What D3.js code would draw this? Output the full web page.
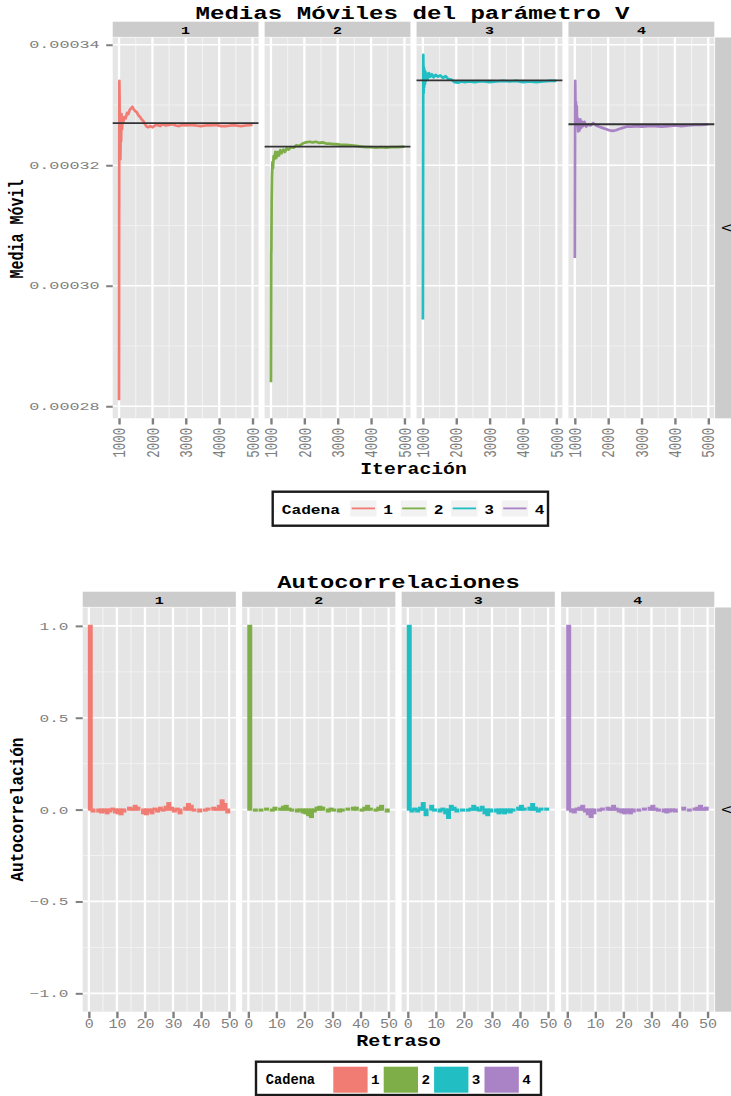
<!DOCTYPE html>
<html>
<head>
<meta charset="utf-8">
<script src="https://cdn.jsdelivr.net/npm/d3@7"></script>
<style>
  html, body { margin: 0; padding: 0; background: #fff; }
  svg { display: block; }
</style>
</head>
<body>
<svg id="chart" width="731" height="1096"></svg>
<script>
// ---------------- data ----------------
const chains = ["1", "2", "3", "4"];
const chainColors = ["#F17C74", "#7DAE48", "#21BEC3", "#A983C6"];

// running mean of parameter V per chain: [iteration, mean]
const runMean1 = [
  [1000, 0.000281], [1003, 0.000305], [1006, 0.000322], [1010, 0.000334], [1016, 0.000331],
  [1022, 0.000324], [1030, 0.000328], [1040, 0.000321], [1050, 0.000326], [1062, 0.000324],
  [1075, 0.0003285], [1090, 0.000326], [1110, 0.000328], [1130, 0.0003272], [1160, 0.000328],
  [1200, 0.0003278], [1240, 0.0003287], [1280, 0.0003285], [1320, 0.0003292], [1360, 0.0003294],
  [1400, 0.0003297], [1440, 0.0003293], [1480, 0.000329], [1530, 0.0003288], [1580, 0.0003283],
  [1630, 0.000328], [1680, 0.0003276], [1730, 0.0003273], [1780, 0.0003268], [1830, 0.0003264],
  [1880, 0.0003263], [1930, 0.0003265], [2000, 0.0003263], [2080, 0.0003266], [2150, 0.0003267],
  [2230, 0.0003265], [2300, 0.0003268], [2400, 0.0003266], [2500, 0.0003267], [2600, 0.0003268],
  [2700, 0.0003266], [2800, 0.0003265], [2900, 0.0003267], [3000, 0.0003266], [3150, 0.0003267],
  [3300, 0.0003266], [3450, 0.0003265], [3600, 0.0003266], [3750, 0.0003266], [3900, 0.0003267],
  [4050, 0.0003265], [4200, 0.0003265], [4350, 0.0003266], [4500, 0.0003266], [4650, 0.0003265],
  [4800, 0.0003266], [5000, 0.0003267]
];
const runMean2 = [
  [1000, 0.000284], [1004, 0.000295], [1008, 0.0003056], [1012, 0.0003058], [1020, 0.000314],
  [1030, 0.000318], [1045, 0.0003205], [1060, 0.0003195], [1080, 0.0003215], [1100, 0.000321],
  [1130, 0.0003222], [1160, 0.0003212], [1200, 0.0003222], [1240, 0.0003216], [1280, 0.0003225],
  [1320, 0.000322], [1370, 0.0003226], [1420, 0.0003222], [1470, 0.0003228], [1530, 0.0003226],
  [1600, 0.000323], [1680, 0.0003229], [1760, 0.0003233], [1850, 0.0003232], [1950, 0.0003236],
  [2050, 0.0003238], [2150, 0.0003239], [2250, 0.0003238], [2350, 0.0003239], [2450, 0.0003237],
  [2550, 0.0003238], [2650, 0.0003236], [2750, 0.0003236], [2850, 0.0003235], [2950, 0.0003235],
  [3100, 0.0003234], [3250, 0.0003234], [3400, 0.0003233], [3550, 0.0003232], [3700, 0.0003231],
  [3850, 0.000323], [4000, 0.000323], [4150, 0.0003229], [4300, 0.000323], [4450, 0.0003229],
  [4600, 0.000323], [4800, 0.000323], [5000, 0.0003231]
];
const runMean3 = [
  [1000, 0.0002944], [1004, 0.000312], [1008, 0.000326], [1012, 0.0003383], [1018, 0.000335],
  [1024, 0.000332], [1032, 0.0003362], [1040, 0.000333], [1050, 0.0003358], [1062, 0.0003335],
  [1075, 0.0003355], [1090, 0.000334], [1110, 0.0003352], [1140, 0.0003343], [1180, 0.0003353],
  [1220, 0.0003347], [1270, 0.0003351], [1320, 0.0003346], [1380, 0.000335], [1450, 0.0003347],
  [1520, 0.0003349], [1600, 0.0003345], [1680, 0.0003348], [1760, 0.0003343], [1850, 0.0003342],
  [1950, 0.0003338], [2050, 0.0003337], [2150, 0.0003339], [2250, 0.0003338], [2400, 0.0003339],
  [2550, 0.0003338], [2700, 0.0003339], [2850, 0.0003339], [3000, 0.0003338], [3200, 0.0003339],
  [3400, 0.000334], [3600, 0.0003339], [3800, 0.000334], [4000, 0.0003338], [4200, 0.0003339],
  [4400, 0.0003338], [4600, 0.0003339], [4800, 0.000334], [5000, 0.000334]
];
const runMean4 = [
  [1000, 0.0003046], [1004, 0.000318], [1008, 0.000327], [1012, 0.000334], [1018, 0.000331],
  [1026, 0.000327], [1035, 0.0003305], [1045, 0.000328], [1058, 0.0003298], [1070, 0.0003265],
  [1085, 0.0003278], [1100, 0.0003256], [1120, 0.000327], [1140, 0.0003258], [1165, 0.0003276],
  [1190, 0.0003262], [1220, 0.0003272], [1250, 0.0003265], [1290, 0.0003272], [1340, 0.0003264],
  [1400, 0.0003268], [1470, 0.0003266], [1550, 0.000327], [1640, 0.0003266], [1730, 0.0003264],
  [1830, 0.0003262], [1930, 0.000326], [2030, 0.0003258], [2130, 0.0003257], [2230, 0.0003258],
  [2330, 0.000326], [2430, 0.0003262], [2550, 0.0003264], [2700, 0.0003264], [2850, 0.0003265],
  [3000, 0.0003264], [3200, 0.0003265], [3400, 0.0003265], [3600, 0.0003264], [3800, 0.0003265],
  [4000, 0.0003266], [4200, 0.0003265], [4400, 0.0003266], [4600, 0.0003267], [4800, 0.0003267],
  [5000, 0.0003268]
];
const runMeans = [runMean1, runMean2, runMean3, runMean4];
// overall mean of each chain (reference line)
const chainMeans = [0.000327, 0.0003231, 0.0003341, 0.0003268];

// autocorrelation by lag (lag 0 .. 49)
const acf1 = [1, -0.01, 0.00, -0.01, -0.015, -0.01, -0.02, -0.01, 0.005, -0.015,
  -0.02, -0.025, -0.01, 0.00, 0.01, 0.005, 0.02, 0.01, 0.00, -0.02,
  -0.025, -0.01, -0.02, 0.005, -0.01, 0.01, -0.005, 0.015, 0.035, 0.01,
  -0.01, 0.005, -0.02, 0.0, 0.01, 0.03, 0.02, -0.005, 0.0, -0.01,
  0.0, -0.005, 0.005, 0.0, 0.01, 0.005, 0.02, 0.05, 0.03, -0.015];
const acf2 = [1, 0.00, -0.005, 0.0, -0.005, 0.0, 0.005, 0.0, -0.005, 0.01,
  0.0, 0.005, 0.015, 0.02, 0.005, -0.005, 0.0, -0.01, -0.005, -0.015,
  -0.02, -0.03, -0.04, -0.01, 0.01, 0.015, 0.01, 0.0, -0.01, 0.005,
  -0.005, 0.0, -0.01, -0.005, 0.0, 0.005, 0.0, 0.01, 0.01, 0.0,
  -0.005, 0.01, 0.02, 0.005, 0.0, -0.005, 0.01, 0.02, 0.0, -0.01];
const acf3 = [1, -0.01, 0.005, -0.01, 0.01, 0.035, -0.03, 0.0, 0.02, -0.005,
  0.0, -0.01, 0.005, -0.02, -0.045, 0.02, 0.01, -0.01, 0.0, -0.005,
  0.0, -0.005, 0.005, 0.02, 0.01, -0.005, 0.015, -0.02, -0.03, -0.01,
  0.0, -0.01, -0.02, -0.015, -0.02, -0.01, -0.015, -0.005, 0.0, 0.01,
  0.02, 0.005, 0.0, 0.01, 0.03, 0.01, -0.01, 0.005, 0.0, 0.005];
const acf4 = [1, -0.01, -0.015, 0.005, 0.01, 0.02, -0.01, -0.025, -0.04, -0.02,
  0.0, -0.005, 0.005, 0.0, 0.01, 0.005, 0.02, 0.005, -0.01, -0.015,
  -0.02, -0.015, -0.02, -0.01, 0.0, -0.005, 0.0, 0.005, 0.0, 0.01,
  0.02, 0.005, -0.005, 0.0, -0.01, -0.015, -0.01, -0.005, -0.01, 0.0,
  0.0, 0.01, 0.0, -0.005, 0.0, 0.005, 0.01, 0.02, 0.005, 0.01];
const acfs = [acf1, acf2, acf3, acf4];

// axis breaks
const iterTicks = [1000, 2000, 3000, 4000, 5000];
const iterMinor = [1500, 2500, 3500, 4500];
const meanTicks = [0.00028, 0.00030, 0.00032, 0.00034];
const meanMinor = [0.00029, 0.00031, 0.00033];
const lagTicks = [0, 10, 20, 30, 40, 50];
const lagMinor = [5, 15, 25, 35, 45];
const acfTicks = [-1, -0.5, 0, 0.5, 1];
const acfMinor = [-0.75, -0.25, 0.25, 0.75];

// ---------------- drawing ----------------
const svg = d3.select("#chart");
const MONO = "'Liberation Mono', 'Courier New', 'DejaVu Sans Mono', monospace";
const GREY = "#7F7F7F";

function label(parent, x, y, str, o) {
  const tr = `translate(${x},${y}) scale(${o.sx || 1},1)` + (o.rotate ? ` rotate(${o.rotate})` : "");
  return parent.append("text")
    .attr("transform", tr)
    .attr("text-anchor", o.anchor || "middle")
    .attr("dy", o.dy || null)
    .attr("font-family", MONO)
    .attr("font-size", o.size)
    .attr("font-weight", o.bold ? "bold" : "normal")
    .attr("fill", o.fill || "#000")
    .text(str);
}

function gridLines(p, vals, fn, horizontal, x0, x1, y0, y1, color, width) {
  p.append("g").selectAll("line").data(vals).join("line")
    .attr("x1", d => horizontal ? x0 : fn(d))
    .attr("x2", d => horizontal ? x1 : fn(d))
    .attr("y1", d => horizontal ? fn(d) : y0)
    .attr("y2", d => horizontal ? fn(d) : y1)
    .attr("stroke", color).attr("stroke-width", width);
}

function facetRow(cfg) {
  const g = svg.append("g");
  const n = chains.length;
  const pw = (cfg.right - cfg.left - cfg.gap * (n - 1)) / n;
  const y = d3.scaleLinear().domain(cfg.yDomain).range([cfg.bottom, cfg.top]);

  const panels = chains.map((c, i) => {
    const x0 = cfg.left + i * (pw + cfg.gap);
    const x = d3.scaleLinear().domain(cfg.xDomain).range([x0, x0 + pw]);
    const p = g.append("g");
    p.append("rect").attr("x", x0).attr("y", cfg.top).attr("width", pw)
      .attr("height", cfg.bottom - cfg.top).attr("fill", "#E5E5E5");
    gridLines(p, cfg.yMinor, y, true, x0, x0 + pw, 0, 0, "#F2F2F2", 0.9);
    gridLines(p, cfg.xMinor, x, false, 0, 0, cfg.top, cfg.bottom, "#F2F2F2", 1.2);
    gridLines(p, cfg.yTicks, y, true, x0, x0 + pw, 0, 0, "#FFFFFF", 1.7);
    gridLines(p, cfg.xTicks, x, false, 0, 0, cfg.top, cfg.bottom, "#FFFFFF", 2.3);

    // facet strip
    p.append("rect").attr("x", x0).attr("y", cfg.stripTop).attr("width", pw)
      .attr("height", cfg.top - cfg.stripTop - 0.6).attr("fill", "#CCCCCC");
    label(p, x0 + pw / 2, cfg.stripBase, c, { size: 10, sx: 1.5, bold: true });

    // x axis
    const ax = p.append("g").attr("transform", `translate(0,${cfg.bottom})`)
      .call(d3.axisBottom(x).tickValues(cfg.xTicks).tickSize(cfg.xTickSize).tickFormat(cfg.xFormat));
    ax.select(".domain").remove();
    ax.selectAll(".tick line").attr("stroke", GREY).attr("stroke-width", 2.4);
    ax.selectAll(".tick text").attr("x", null).attr("y", null).attr("dy", null)
      .attr("font-family", MONO).attr("fill", GREY);
    cfg.styleXText(ax.selectAll(".tick text"));
    return { x, p, x0, pw };
  });

  // row strip on the right
  g.append("rect").attr("x", cfg.right + 0.8).attr("y", cfg.top).attr("width", 40)
    .attr("height", cfg.bottom - cfg.top).attr("fill", "#CCCCCC");
  label(g, cfg.right + 11.5, (cfg.top + cfg.bottom) / 2, "V", { size: 12, rotate: 90, dy: "0.35em" });

  // y axis
  const ay = g.append("g").attr("transform", `translate(${cfg.left},0)`)
    .call(d3.axisLeft(y).tickValues(cfg.yTicks).tickSize(cfg.yTickSize).tickFormat(cfg.yFormat));
  ay.select(".domain").remove();
  ay.selectAll(".tick line").attr("stroke", GREY).attr("stroke-width", 2);
  ay.selectAll(".tick text").attr("x", null).attr("dy", "0.3em")
    .attr("transform", `translate(${-cfg.yLabelGap},0) scale(${cfg.yLabelSx},1)`)
    .attr("text-anchor", "end").attr("font-family", MONO)
    .attr("font-size", cfg.yLabelSize).attr("fill", GREY);

  return { panels, y };
}

// ===== Medias Móviles =====
const meansRow = facetRow({
  left: 112.7, right: 714.3, gap: 6.1, top: 37.5, bottom: 418.3,
  stripTop: 21.7, stripBase: 33.5,
  xDomain: [810, 5180], yDomain: [0.000278, 0.0003412],
  xTicks: iterTicks, xMinor: iterMinor, yTicks: meanTicks, yMinor: meanMinor,
  xFormat: d3.format("d"), yFormat: d3.format(".5f"),
  xTickSize: 6.2, yTickSize: 6.5,
  yLabelGap: 13, yLabelSx: 1.6, yLabelSize: 10.5,
  styleXText: sel => sel.attr("font-size", 12.5).attr("text-anchor", "end")
    .attr("transform", "translate(5.7,9.4) scale(1.5,1) rotate(-90)")
});

meansRow.panels.forEach((pn, i) => {
  const line = d3.line().x(d => pn.x(d[0])).y(d => meansRow.y(d[1]));
  pn.p.append("path").datum(runMeans[i]).attr("d", line)
    .attr("fill", "none").attr("stroke", chainColors[i]).attr("stroke-width", 2.7)
    .attr("stroke-linejoin", "round").attr("stroke-linecap", "butt");
  pn.p.append("line")
    .attr("x1", pn.x0).attr("x2", pn.x0 + pn.pw)
    .attr("y1", meansRow.y(chainMeans[i])).attr("y2", meansRow.y(chainMeans[i]))
    .attr("stroke", "#333333").attr("stroke-width", 1.8);
});

label(svg, 412.5, 18.5, "Medias Móviles del parámetro V", { size: 19, sx: 1.27, bold: true });
label(svg, 413.5, 473.5, "Iteración", { size: 17, sx: 1.16, bold: true });
label(svg, 23, 229, "Media Móvil", { size: 15, sx: 1.3, bold: true, rotate: -90 });

// legend (lines)
const lg1 = svg.append("g");
lg1.append("rect").attr("x", 272.7).attr("y", 491.7).attr("width", 275.3).attr("height", 34)
  .attr("fill", "#fff").attr("stroke", "#1a1a1a").attr("stroke-width", 2.4);
label(lg1, 281.7, 513.5, "Cadena", { size: 13.5, sx: 1.2, bold: true, anchor: "start" });
chains.forEach((c, i) => {
  const kx = 351.7 + i * 50.5;
  lg1.append("rect").attr("x", kx - 1.5).attr("y", 500.5).attr("width", 26.3).attr("height", 16)
    .attr("fill", "#F2F2F2");
  lg1.append("line").attr("x1", kx).attr("x2", kx + 23.3).attr("y1", 508.4).attr("y2", 508.4)
    .attr("stroke", chainColors[i]).attr("stroke-width", 1.8);
  label(lg1, kx + 36.5, 513.5, c, { size: 13.5, sx: 1.2, bold: true });
});

// ===== Autocorrelaciones =====
const acfRow = facetRow({
  left: 82.7, right: 714.3, gap: 6.3, top: 607.5, bottom: 1011.7,
  stripTop: 591.7, stripBase: 603.5,
  xDomain: [-2.2, 52.4], yDomain: [-1.1, 1.1],
  xTicks: lagTicks, xMinor: lagMinor, yTicks: acfTicks, yMinor: acfMinor,
  xFormat: d3.format("d"), yFormat: d3.format(".1f"),
  xTickSize: 6.5, yTickSize: 7,
  yLabelGap: 14.2, yLabelSx: 1.4, yLabelSize: 11.5,
  styleXText: sel => sel.attr("font-size", 12.5).attr("text-anchor", "middle")
    .attr("transform", "translate(0,16.3) scale(1.2,1)")
});

acfRow.panels.forEach((pn, i) => {
  const y0 = acfRow.y(0);
  pn.p.append("g").selectAll("rect").data(acfs[i]).join("rect")
    .attr("x", (d, k) => pn.x(k))
    .attr("width", (d, k) => pn.x(k + 1) - pn.x(k))
    .attr("y", d => Math.min(acfRow.y(d), y0))
    .attr("height", d => Math.abs(acfRow.y(d) - y0))
    .attr("fill", chainColors[i]).attr("stroke", chainColors[i]).attr("stroke-width", 2.2);
});

label(svg, 398.5, 587.5, "Autocorrelaciones", { size: 17.5, sx: 1.36, bold: true });
label(svg, 398.5, 1045.5, "Retraso", { size: 16.5, sx: 1.22, bold: true });
label(svg, 23, 809.6, "Autocorrelación", { size: 16, sx: 1.2, bold: true, rotate: -90 });

// legend (filled keys)
const lg2 = svg.append("g");
lg2.append("rect").attr("x", 256).attr("y", 1061.7).attr("width", 285).attr("height", 33.3)
  .attr("fill", "#fff").attr("stroke", "#1a1a1a").attr("stroke-width", 2.4);
label(lg2, 265.7, 1083.5, "Cadena", { size: 14, sx: 0.98, bold: true, anchor: "start" });
chains.forEach((c, i) => {
  const kx = 333.3 + i * 50.4;
  lg2.append("rect").attr("x", kx).attr("y", 1066.7).attr("width", 34.3).attr("height", 26)
    .attr("fill", chainColors[i]);
  label(lg2, kx + 42, 1083.5, c, { size: 13, sx: 1.1, bold: true });
});
</script>
</body>
</html>
